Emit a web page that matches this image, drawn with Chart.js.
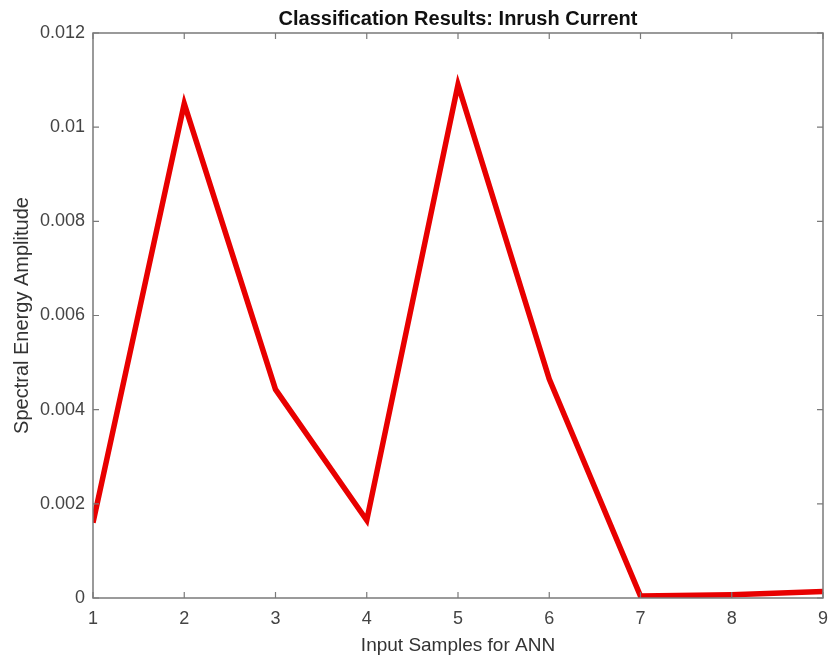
<!DOCTYPE html>
<html>
<head>
<meta charset="utf-8">
<script src="https://cdn.jsdelivr.net/npm/chart.js@4.4.1/dist/chart.umd.min.js"></script>
<style>
  html, body { margin: 0; padding: 0; background: #fff; }
  #wrap { width: 830px; height: 664px; }
</style>
</head>
<body>
<div id="wrap"><canvas id="c" width="830" height="664"></canvas></div>
<script>
// Input sample indices and the spectral energy read at each one
const samples = [1, 2, 3, 4, 5, 6, 7, 8, 9];
const amplitude = [0.0016, 0.0105, 0.00443, 0.00165, 0.0109, 0.00465, 0.00004, 0.00007, 0.00014];
const yTicks = [0, 0.002, 0.004, 0.006, 0.008, 0.01, 0.012];

const axisColor = '#7a7a7a';
const labelColor = '#444';
const fontFamily = 'Liberation Sans, Arial, sans-serif';

// Box around the plot area with short inward tick marks on all four sides
const boxTicks = {
  id: 'boxTicks',
  afterDraw(chart) {
    const { ctx, chartArea: a, scales } = chart;
    const len = 6;
    ctx.save();
    ctx.strokeStyle = axisColor;
    ctx.lineWidth = 1.5;
    ctx.strokeRect(a.left, a.top, a.right - a.left, a.bottom - a.top);
    ctx.lineWidth = 1.2;
    ctx.beginPath();
    scales.x.ticks.forEach(t => {
      const px = scales.x.getPixelForValue(t.value);
      ctx.moveTo(px, a.bottom); ctx.lineTo(px, a.bottom - len);
      ctx.moveTo(px, a.top); ctx.lineTo(px, a.top + len);
    });
    scales.y.ticks.forEach(t => {
      const py = scales.y.getPixelForValue(t.value);
      ctx.moveTo(a.left, py); ctx.lineTo(a.left + len, py);
      ctx.moveTo(a.right, py); ctx.lineTo(a.right - len, py);
    });
    ctx.stroke();
    ctx.restore();
  }
};

new Chart(document.getElementById('c'), {
  type: 'line',
  data: {
    datasets: [{
      data: samples.map((s, i) => ({ x: s, y: amplitude[i] })),
      borderColor: 'rgb(232,0,0)',
      borderWidth: 5.5,
      pointRadius: 0,
      tension: 0,
      borderJoinStyle: 'miter',
      fill: false
    }]
  },
  options: {
    responsive: false,
    animation: false,
    devicePixelRatio: 1,
    layout: { padding: { left: 0, right: 7, top: 0, bottom: 0 } },
    plugins: {
      legend: { display: false },
      tooltip: { enabled: false },
      title: {
        display: true,
        fullSize: false,
        text: 'Classification Results: Inrush Current',
        color: '#111',
        font: { family: fontFamily, size: 20, weight: 'bold', lineHeight: 1.2 },
        padding: { top: 7, bottom: 2 }
      }
    },
    scales: {
      x: {
        type: 'linear',
        min: 1, max: 9,
        border: { display: false },
        grid: { display: false, drawTicks: false },
        afterBuildTicks(scale) { scale.ticks = samples.map(v => ({ value: v })); },
        afterFit(scale) {
          scale.height = 66;
          scale.paddingLeft = 0;
          scale.paddingRight = 0;
        },
        ticks: {
          color: labelColor,
          padding: 10,
          font: { family: fontFamily, size: 18 },
          callback: v => String(v)
        },
        title: {
          display: true,
          text: 'Input Samples for ANN',
          color: '#333',
          font: { family: fontFamily, size: 19, lineHeight: 1.2 },
          padding: { top: 0, bottom: 7 }
        }
      },
      y: {
        min: 0, max: 0.012,
        border: { display: false },
        grid: { display: false, drawTicks: false },
        afterBuildTicks(scale) { scale.ticks = yTicks.map(v => ({ value: v })); },
        afterFit(scale) { scale.width = 93; },
        ticks: {
          color: labelColor,
          padding: 8,
          font: { family: fontFamily, size: 18 },
          callback: v => String(+Number(v).toFixed(6))
        },
        title: {
          display: true,
          text: 'Spectral Energy Amplitude',
          color: '#333',
          font: { family: fontFamily, size: 20, lineHeight: 1.2 },
          padding: { top: 10, bottom: 4 }
        }
      }
    }
  },
  plugins: [boxTicks]
});
</script>
</body>
</html>
